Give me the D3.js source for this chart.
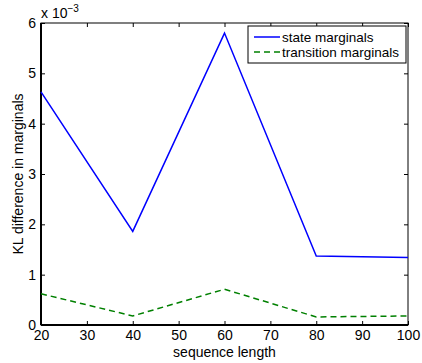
<!DOCTYPE html>
<meta charset="utf-8">
<style>
	body { margin: 0; background: #fff; font-family: "Liberation Sans", Arial, sans-serif; }
	text { fill: #000; }
</style>
<body>
<svg id="chart" width="422" height="363"></svg>
<script src="https://d3js.org/d3.v7.min.js"></script>
<script>
	// sequence length on x, KL difference (x 10^-3) on y
	var seqLength = [20, 40, 60, 80, 100];
	var stateMarginals = [4.63, 1.86, 5.80, 1.37, 1.34];
	var transitionMarginals = [0.62, 0.18, 0.71, 0.16, 0.18];
	var xTicks = [20, 30, 40, 50, 60, 70, 80, 90, 100];
	var yTicks = [0, 1, 2, 3, 4, 5, 6];

	var svg = d3.select("#chart"),
		margin = {top: 23, right: 14, bottom: 38, left: 41},
		width = +svg.attr("width") - margin.left - margin.right,
		height = +svg.attr("height") - margin.top - margin.bottom;

	var x = d3.scaleLinear().domain([20, 100]).range([0, width]);
	var y = d3.scaleLinear().domain([0, 6]).range([height, 0]);

	var g = svg.append("g")
		.attr("transform", "translate(" + margin.left + "," + margin.top + ")");

	function styleAxis(sel) {
		sel.select(".domain").remove();
		sel.selectAll("line").attr("stroke", "#000");
		sel.selectAll("text").attr("font-size", 14).attr("fill", "#000")
			.attr("font-family", "Liberation Sans, Arial, sans-serif");
	}

	g.append("g").attr("transform", "translate(0," + height + ")")
		.call(d3.axisBottom(x).tickValues(xTicks).tickSize(-4).tickPadding(5).tickFormat(d3.format("d")))
		.call(styleAxis);
	g.append("g")
		.call(d3.axisTop(x).tickValues(xTicks).tickSize(-4).tickFormat(""))
		.call(styleAxis);
	g.append("g")
		.call(d3.axisLeft(y).tickValues(yTicks).tickSize(-4).tickPadding(5).tickFormat(d3.format("d")))
		.call(styleAxis);
	g.append("g").attr("transform", "translate(" + width + ",0)")
		.call(d3.axisRight(y).tickValues(yTicks).tickSize(-4).tickFormat(""))
		.call(styleAxis);

	// frame: thick left/bottom like the original
	g.append("rect").attr("width", width).attr("height", height)
		.attr("fill", "none").attr("stroke", "#000").attr("stroke-width", 1);
	g.append("line").attr("x1", 0).attr("x2", 0).attr("y1", 0).attr("y2", height)
		.attr("stroke", "#000").attr("stroke-width", 2);
	g.append("line").attr("x1", 0).attr("x2", width).attr("y1", height).attr("y2", height)
		.attr("stroke", "#000").attr("stroke-width", 2);

	var line = d3.line()
		.x(function(d) { return x(d[0]); })
		.y(function(d) { return y(d[1]); });

	g.append("path")
		.datum(d3.zip(seqLength, stateMarginals))
		.attr("d", line)
		.attr("fill", "none").attr("stroke", "#0000ff").attr("stroke-width", 1.5);

	g.append("path")
		.datum(d3.zip(seqLength, transitionMarginals))
		.attr("d", line)
		.attr("fill", "none").attr("stroke", "#008000").attr("stroke-width", 1.5)
		.attr("stroke-dasharray", "6,4");

	// exponent label
	var expo = svg.append("text").attr("x", 41).attr("y", 18).attr("font-size", 14);
	expo.append("tspan").text("x 10");
	expo.append("tspan").attr("dy", -6).attr("font-size", 10).text("\u22123");

	// axis titles
	svg.append("text")
		.attr("x", margin.left + width / 2).attr("y", 357)
		.attr("text-anchor", "middle").attr("font-size", 14)
		.text("sequence length");
	svg.append("text")
		.attr("transform", "translate(23," + (margin.top + height / 2) + ") rotate(-90)")
		.attr("text-anchor", "middle").attr("font-size", 14)
		.text("KL difference in marginals");

	// legend
	var lg = svg.append("g").attr("transform", "translate(248,26)");
	lg.append("rect").attr("width", 158).attr("height", 37)
		.attr("fill", "#fff").attr("stroke", "#000");
	var legendItems = [
		{label: "state marginals", color: "#0000ff", dash: null},
		{label: "transition marginals", color: "#008000", dash: "6,4"}
	];
	legendItems.forEach(function(d, i) {
		var yy = 11 + i * 15;
		lg.append("line").attr("x1", 6).attr("x2", 32).attr("y1", yy).attr("y2", yy)
			.attr("stroke", d.color).attr("stroke-width", 1.5)
			.attr("stroke-dasharray", d.dash);
		lg.append("text").attr("x", 34).attr("y", yy + 4.5).attr("font-size", 13.5)
			.text(d.label);
	});
</script>
</body>
